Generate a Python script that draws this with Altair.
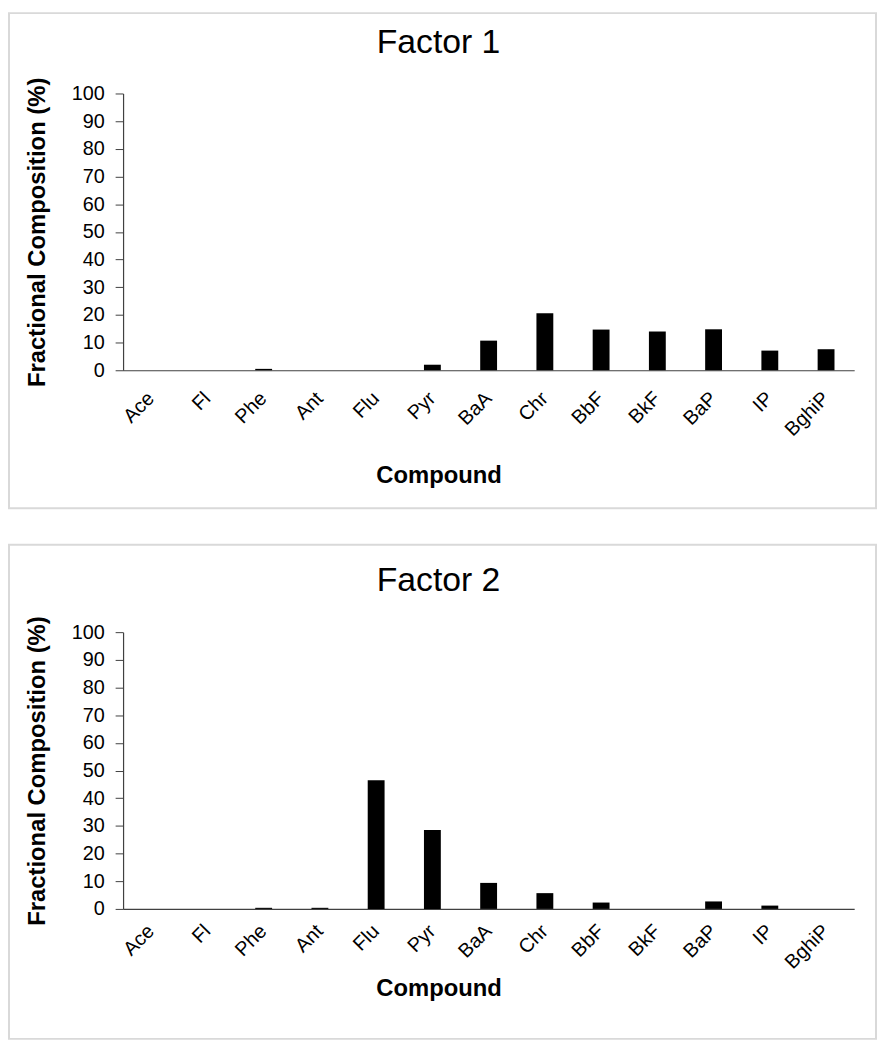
import altair as alt
import pandas as pd

compounds = ["Ace", "Fl", "Phe", "Ant", "Flu", "Pyr", "BaA", "Chr", "BbF", "BkF", "BaP", "IP", "BghiP"]
factor1 = [0, 0, 0.5, 0, 0, 2.0, 10.7, 20.6, 14.7, 14.0, 14.8, 7.1, 7.6]
factor2 = [0, 0, 0.4, 0.4, 46.5, 28.5, 9.4, 5.7, 2.3, 0, 2.7, 1.2, 0]
panel_titles = ["Factor 1", "Factor 2"]
y_ticks = [0, 10, 20, 30, 40, 50, 60, 70, 80, 90, 100]

FONT = "Liberation Sans"
W, H = 737, 279
AXIS_COLOR = "#404040"


def panel(title, vals, frame_top, frame_bottom, xtitle_y, label_pad):
    df = pd.DataFrame({"Compound": compounds, "Value": vals})
    bars = alt.Chart(df).mark_bar(color="black", size=17).encode(
        x=alt.X(
            "Compound:N",
            sort=compounds,
            scale=alt.Scale(type="band", paddingInner=0, paddingOuter=0),
            axis=alt.Axis(
                title="Compound",
                labelAngle=-45,
                labelAlign="right",
                labelBaseline="middle",
                labelPadding=label_pad,
                labelFontSize=20,
                ticks=False,
                titleX=318,
                titleY=xtitle_y,
                titleAlign="center",
                titleBaseline="middle",
                titleFontSize=24,
                titleFontWeight="bold",
            ),
        ),
        y=alt.Y(
            "Value:Q",
            scale=alt.Scale(domain=[0, 100], nice=False),
            axis=alt.Axis(
                title="Fractional Composition (%)",
                values=y_ticks,
                tickSize=8,
                labelPadding=11,
                labelFontSize=20,
                titleX=-86,
                titleY=H / 2,
                titleAlign="center",
                titleBaseline="middle",
                titleAngle=270,
                titleFontSize=24,
                titleFontWeight="bold",
            ),
        ),
    )
    tdf = pd.DataFrame({"t": [title]})
    ttl = alt.Chart(tdf).mark_text(fontSize=34, font=FONT, color="black", baseline="middle").encode(
        text="t:N", x=alt.value(318), y=alt.value(-51)
    )
    frame = alt.Chart(tdf).mark_rect(filled=False, stroke="#d9d9d9", strokeWidth=2, clip=False).encode(
        x=alt.value(-115), x2=alt.value(759), y=alt.value(frame_top), y2=alt.value(frame_bottom)
    )
    return alt.layer(frame, bars, ttl).properties(width=W, height=H)


p1 = panel(panel_titles[0], factor1, -81, 418, 106, 25)
p2 = panel(panel_titles[1], factor2, -88, 410, 80, 19)

chart = (
    alt.vconcat(p1, p2, spacing=35)
    .properties(padding=0)
    .configure(font=FONT)
    .configure_view(stroke=None)
    .configure_axis(
        grid=False,
        domainColor=AXIS_COLOR,
        domainWidth=1.2,
        tickColor=AXIS_COLOR,
        labelColor="black",
        titleColor="black",
        labelFont=FONT,
        titleFont=FONT,
    )
)

chart.save("out.html", embed_options={"renderer": "svg", "actions": False})
